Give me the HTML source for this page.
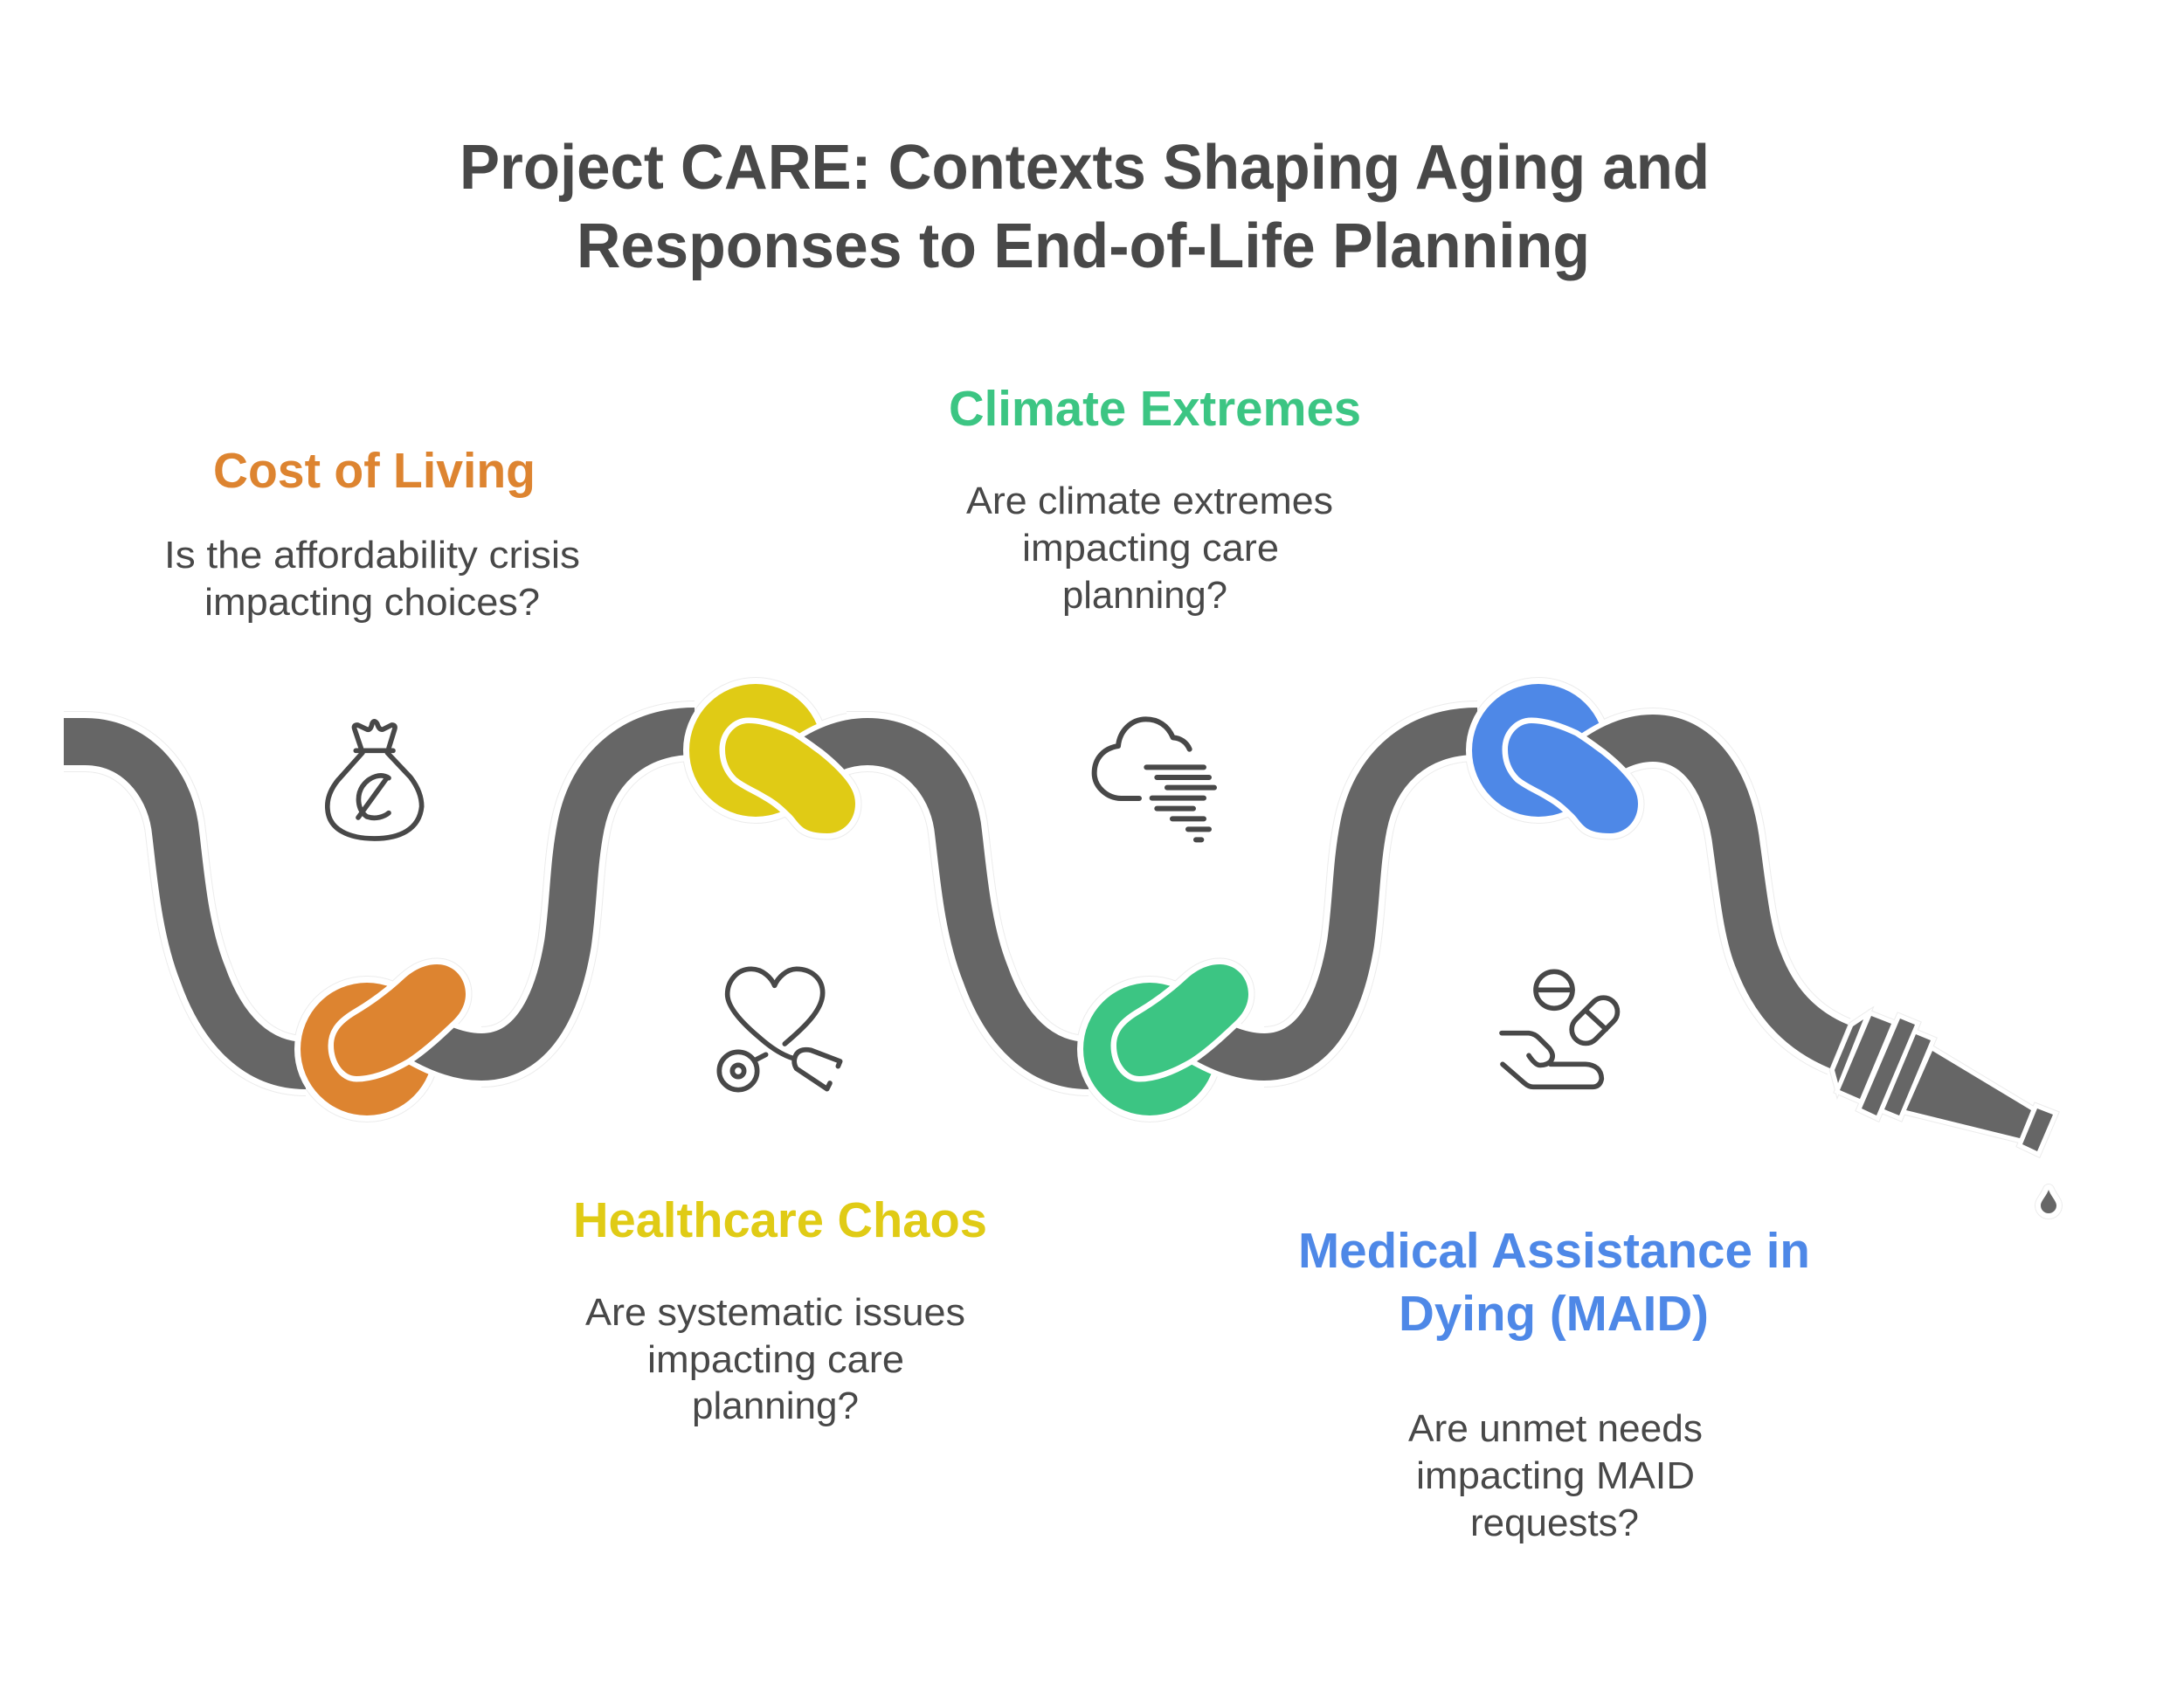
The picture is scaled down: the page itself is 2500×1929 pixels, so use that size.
<!DOCTYPE html>
<html>
<head>
<meta charset="utf-8">
<style>
html,body{margin:0;padding:0;background:#fff}
svg{display:block}
text{font-family:"Liberation Sans",sans-serif;text-anchor:start}
.t{font-weight:bold;font-size:72px;fill:#484848}
.h{font-weight:bold;font-size:57px}
.d{font-size:44px;fill:#484848}
.r{fill:none;stroke-linecap:butt;stroke-linejoin:round}
.i{fill:none;stroke:#484848;stroke-linecap:round;stroke-linejoin:round}
</style>
</head>
<body>
<svg xmlns="http://www.w3.org/2000/svg" width="2500" height="1929" viewBox="0 0 2500 1929">
<rect width="2500" height="1929" fill="#fff"/>
<defs>
<path id="left" d="M73,849 L97,849 C155,849 192,895 200,945 C206,990 210,1060 232,1115 C255,1180 295,1220 350,1220"/>
<path id="right" d="M460,1175 C490,1195 520,1210 551,1210 C615,1210 640,1140 650,1080 C657,1030 656,990 665,945 C678,880 725,837 795,837"/>
<path id="rightb" d="M551,1210 C615,1210 640,1140 650,1080 C657,1030 656,990 665,945 C678,880 725,837 795,837"/>
<path id="yright" d="M915,880 C940,860 965,849 993,849"/>
<path id="last" d="M1811,880 C1836,860 1862,845 1892,845 C1948,845 1980,900 1988,970 C1995,1020 2000,1070 2013,1100 C2030,1145 2059,1179 2105,1198"/>
<path id="beanO" d="M500,1104 C520,1104 533,1120 533,1138 C533,1150 527,1161 517,1170 C500,1186 485,1200 467,1212 C450,1222 428,1232 408,1232 C393,1232 382,1215 382,1197 C382,1180 393,1170 410,1160 C425,1151 445,1137 463,1120 C472,1112 485,1104 500,1104Z"/>
<path id="beanY" d="M857,828 C873,828 892,835 907,842 C918,849 926,855 937,863 C947,871 956,879 963,887 C973,898 979,908 979,920 C979,940 965,954 947,954 C934,954 926,952 920,948 C912,942 910,936 903,930 C895,922 888,916 877,910 C866,903 853,898 843,890 C834,881 830,870 830,858 C830,841 842,828 857,828Z"/>
<g id="noz">
<polygon points="2133,1167 2121,1175 2100,1225 2104,1240"/>
<polygon points="2142,1163 2165,1172 2129,1258 2106,1248"/>
<polygon points="2175,1166 2192,1173 2148,1277 2131,1269"/>
<polygon points="2193,1184 2210,1191 2174,1277 2157,1270"/>
<polygon points="2212,1203 2325,1271 2312,1303 2182,1271"/>
<polygon points="2332,1269 2350,1276 2332,1318 2315,1310"/>
</g>
<path id="drop" d="M2345,1362 C2348,1370 2354,1375 2354,1380 A9,9 0 0 1 2336,1380 C2336,1375 2342,1370 2345,1362Z"/>
</defs>

<!-- faint outer halo -->
<g stroke="#ececec" stroke-width="70" fill="none">
<use href="#left"/><use href="#rightb"/><use href="#yright"/>
<use href="#left" x="896"/><use href="#rightb" x="896"/>
<use href="#last"/>
</g>
<g stroke="#ececec" stroke-width="16" fill="#ececec">
<circle cx="420" cy="1201" r="76"/><circle cx="865" cy="859" r="76"/>
<circle cx="1316" cy="1201" r="76"/><circle cx="1761" cy="859" r="76"/>
<use href="#beanO" stroke-width="15"/><use href="#beanY" stroke-width="15"/>
<use href="#beanO" x="896" stroke-width="15"/><use href="#beanY" x="896" stroke-width="15"/>
<use href="#noz" stroke-width="12"/>
<use href="#drop" stroke-width="14" stroke-linejoin="round"/>
</g>

<!-- ribbons -->
<g class="r">
<g stroke="#fff" stroke-width="68"><use href="#left"/><use href="#left" x="896"/><use href="#rightb"/><use href="#rightb" x="896"/><use href="#last"/><use href="#yright"/></g>
<g stroke="#666" stroke-width="54"><use href="#left"/><use href="#left" x="896"/><use href="#rightb"/><use href="#rightb" x="896"/></g>
</g>

<!-- ORANGE knot -->
<circle cx="420" cy="1201" r="76" fill="#DD8430" stroke="#fff" stroke-width="14" paint-order="stroke"/>
<g class="r"><use href="#right" stroke="#fff" stroke-width="66"/><use href="#right" stroke="#666" stroke-width="54"/></g>
<use href="#beanO" fill="#DD8430" stroke="#fff" stroke-width="13" paint-order="stroke"/>

<!-- YELLOW knot -->
<circle cx="865" cy="859" r="76" fill="#E0CB15" stroke="#fff" stroke-width="14" paint-order="stroke"/>
<g class="r"><use href="#yright" stroke="#fff" stroke-width="66"/><use href="#yright" stroke="#666" stroke-width="54"/></g>
<use href="#beanY" fill="#E0CB15" stroke="#fff" stroke-width="13" paint-order="stroke"/>

<!-- GREEN knot -->
<circle cx="1316" cy="1201" r="76" fill="#3CC583" stroke="#fff" stroke-width="14" paint-order="stroke"/>
<g class="r"><use href="#right" x="896" stroke="#fff" stroke-width="66"/><use href="#right" x="896" stroke="#666" stroke-width="54"/></g>
<use href="#beanO" x="896" fill="#3CC583" stroke="#fff" stroke-width="13" paint-order="stroke"/>

<!-- BLUE knot -->
<circle cx="1761" cy="859" r="76" fill="#4E88E7" stroke="#fff" stroke-width="14" paint-order="stroke"/>
<g class="r"><use href="#last" stroke="#fff" stroke-width="66"/><use href="#last" stroke="#666" stroke-width="54"/></g>
<use href="#beanY" x="896" fill="#4E88E7" stroke="#fff" stroke-width="13" paint-order="stroke"/>

<!-- nozzle -->
<use href="#noz" fill="#fff" stroke="#fff" stroke-width="10"/>
<use href="#noz" fill="#666"/>
<use href="#drop" fill="#666" stroke="#fff" stroke-width="12" stroke-linejoin="round" paint-order="stroke"/>

<!-- money bag -->
<g class="i" transform="translate(330,800) scale(.3333)" stroke-width="17">
<path d="M250,170 L228,105 Q222,90 238,90 L270,105 Q283,110 288,85 Q295,70 305,85 Q312,108 325,105 L355,90 Q370,90 365,105 L345,170"/>
<path d="M232,178 H360"/>
<path d="M255,185 L170,280 Q130,330 135,380 C140,450 210,480 296,480 C380,480 450,450 458,370 Q458,320 420,270 L340,185"/>
<path d="M345,272 C320,255 280,265 255,300 C235,330 235,380 270,405 C300,415 330,405 345,392"/>
<path d="M240,408 L340,270"/>
</g>

<!-- heart stethoscope -->
<g class="i" transform="translate(800,1090) scale(.3333)" stroke-width="17">
<path d="M295,315 C360,260 425,200 425,140 C425,90 385,58 335,58 C300,58 270,90 260,115 C250,90 220,58 180,58 C130,58 98,100 98,145 C98,190 150,245 210,295 C250,330 290,355 325,365"/>
<circle cx="135" cy="408" r="65"/><circle cx="135" cy="408" r="20"/>
<path d="M195,370 L230,352"/>
<path d="M478,392 L485,375 L385,337 Q350,330 335,350 Q320,375 335,400 L440,470 L450,450"/>
</g>

<!-- cloud -->
<g class="i" transform="translate(1240,810) scale(.3333)" stroke-width="18">
<path d="M365,143 C355,120 335,105 308,103 C290,60 255,40 215,40 C165,40 125,80 120,132 C70,140 38,175 38,225 C38,275 85,312 130,312 H192"/>
<path d="M217,205 H414 M253,240 H432 M288,275 H450 M236,311 H414 M253,347 H378 M306,382 H414 M360,418 H432 M387,454 H406"/>
</g>

<!-- pills hand -->
<g class="i" transform="translate(1700,1100) scale(.3333)" stroke-width="17">
<circle cx="237" cy="100" r="63"/><path d="M175,100 H300"/>
<rect x="285" y="157" width="182" height="96" rx="48" transform="rotate(-45 376 205)"/>
<path d="M345,170 L415,235"/>
<path d="M57,248 H150 Q170,250 185,265 L220,300 Q240,325 225,345 Q210,360 185,358 Q170,355 150,325"/>
<path d="M225,355 H345 Q398,358 400,405 Q395,432 370,433 H165 Q150,433 135,420 L60,355"/>
</g>

<!-- text -->
<text class="t" x="526" y="216" textLength="1431" lengthAdjust="spacingAndGlyphs">Project CARE: Contexts Shaping Aging and</text>
<text class="t" x="660" y="306" textLength="1160" lengthAdjust="spacingAndGlyphs">Responses to End-of-Life Planning</text>

<text class="h" fill="#DD8430" x="244" y="558" textLength="369" lengthAdjust="spacingAndGlyphs">Cost of Living</text>
<text class="d" x="188" y="650" textLength="476" lengthAdjust="spacingAndGlyphs">Is the affordability crisis</text>
<text class="d" x="234" y="704" textLength="384" lengthAdjust="spacingAndGlyphs">impacting choices?</text>

<text class="h" fill="#3CC583" x="1086" y="487" textLength="472" lengthAdjust="spacingAndGlyphs">Climate Extremes</text>
<text class="d" x="1106" y="588" textLength="420" lengthAdjust="spacingAndGlyphs">Are climate extremes</text>
<text class="d" x="1170" y="642" textLength="294" lengthAdjust="spacingAndGlyphs">impacting care</text>
<text class="d" x="1216" y="696" textLength="189" lengthAdjust="spacingAndGlyphs">planning?</text>

<text class="h" fill="#E0CB15" x="656" y="1416" textLength="474" lengthAdjust="spacingAndGlyphs">Healthcare Chaos</text>
<text class="d" x="670" y="1517" textLength="435" lengthAdjust="spacingAndGlyphs">Are systematic issues</text>
<text class="d" x="741" y="1571" textLength="294" lengthAdjust="spacingAndGlyphs">impacting care</text>
<text class="d" x="792" y="1624" textLength="191" lengthAdjust="spacingAndGlyphs">planning?</text>

<text class="h" fill="#4E88E7" x="1486" y="1451" textLength="586" lengthAdjust="spacingAndGlyphs">Medical Assistance in</text>
<text class="h" fill="#4E88E7" x="1601" y="1523" textLength="355" lengthAdjust="spacingAndGlyphs">Dying (MAID)</text>
<text class="d" x="1612" y="1650" textLength="337" lengthAdjust="spacingAndGlyphs">Are unmet needs</text>
<text class="d" x="1621" y="1704" textLength="319" lengthAdjust="spacingAndGlyphs">impacting MAID</text>
<text class="d" x="1683" y="1758" textLength="193" lengthAdjust="spacingAndGlyphs">requests?</text>
</svg>
</body>
</html>
